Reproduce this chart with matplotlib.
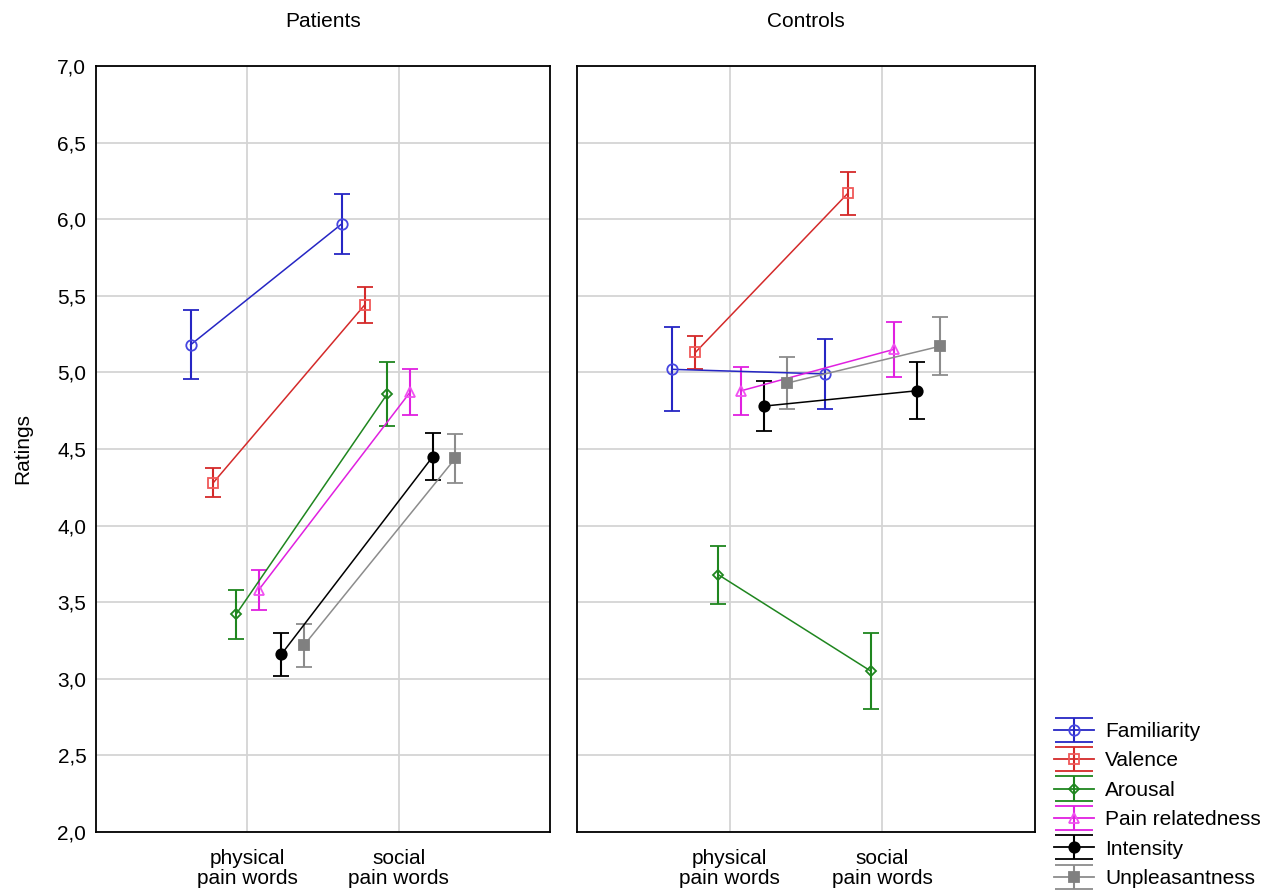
import matplotlib
matplotlib.use("Agg")
import matplotlib.pyplot as plt
from matplotlib.legend_handler import HandlerErrorbar
import numpy as np

plt.rcParams['font.family'] = ['Liberation Sans', 'DejaVu Sans']

categories = ["physical\npain words", "social\npain words"]
series = ["Familiarity", "Valence", "Arousal", "Pain relatedness", "Intensity", "Unpleasantness"]
yticks = [2.0, 2.5, 3.0, 3.5, 4.0, 4.5, 5.0, 5.5, 6.0, 6.5, 7.0]
ytick_labels = ["2,0", "2,5", "3,0", "3,5", "4,0", "4,5", "5,0", "5,5", "6,0", "6,5", "7,0"]

# Patients: means [physical, social] and error half-widths
pat_familiarity = [5.18, 5.97]
pat_familiarity_err = [0.225, 0.195]
pat_valence = [4.28, 5.44]
pat_valence_err = [0.095, 0.12]
pat_arousal = [3.42, 4.86]
pat_arousal_err = [0.16, 0.21]
pat_pain = [3.58, 4.87]
pat_pain_err = [0.13, 0.15]
pat_intensity = [3.16, 4.45]
pat_intensity_err = [0.14, 0.155]
pat_unpleasant = [3.22, 4.44]
pat_unpleasant_err = [0.14, 0.16]

# Controls
con_familiarity = [5.02, 4.99]
con_familiarity_err = [0.275, 0.23]
con_valence = [5.13, 6.17]
con_valence_err = [0.11, 0.14]
con_arousal = [3.68, 3.05]
con_arousal_err = [0.19, 0.25]
con_pain = [4.88, 5.15]
con_pain_err = [0.155, 0.18]
con_intensity = [4.78, 4.88]
con_intensity_err = [0.165, 0.185]
con_unpleasant = [4.93, 5.17]
con_unpleasant_err = [0.17, 0.19]

patients = [(pat_familiarity, pat_familiarity_err), (pat_valence, pat_valence_err),
            (pat_arousal, pat_arousal_err), (pat_pain, pat_pain_err),
            (pat_intensity, pat_intensity_err), (pat_unpleasant, pat_unpleasant_err)]
controls = [(con_familiarity, con_familiarity_err), (con_valence, con_valence_err),
            (con_arousal, con_arousal_err), (con_pain, con_pain_err),
            (con_intensity, con_intensity_err), (con_unpleasant, con_unpleasant_err)]

styles = [
    dict(color='#2626c4', marker='o', mfc='none', mec='#4646e0', ms=7.5),
    dict(color='#d42a2a', marker='s', mfc='none', mec='#f05858', ms=6.5),
    dict(color='#1f861f', marker='D', mfc='none', mec='#1f861f', ms=5.5),
    dict(color='#e020e0', marker='^', mfc='none', mec='#f050f0', ms=7),
    dict(color='#000000', marker='o', mfc='#000000', mec='#000000', ms=7.5),
    dict(color='#8c8c8c', marker='s', mfc='#808080', mec='#808080', ms=7),
]
offsets = [-0.375, -0.225, -0.075, 0.075, 0.225, 0.375]
FS = 15

fig = plt.figure(figsize=(12.74, 8.92), dpi=100)
ax1 = fig.add_axes([96/1274, 1-832/892, 454/1274, 766/892])
ax2 = fig.add_axes([577/1274, 1-832/892, 458/1274, 766/892])

xpos = np.array([1, 2])
for ax, data, title in [(ax1, patients, "Patients"), (ax2, controls, "Controls")]:
    for (vals, errs), st, off, name in zip(data, styles, offsets, series):
        ax.errorbar(xpos + off, vals, yerr=errs, color=st['color'], marker=st['marker'],
                    mfc=st['mfc'], mec=st['mec'], ms=st['ms'], mew=1.3, lw=1.1,
                    elinewidth=1.5, capsize=5.5, capthick=1.5, zorder=3)
    ax.set_xlim(0, 3)
    ax.set_ylim(2.0, 7.0)
    ax.set_xticks(xpos)
    ax.set_xticklabels(categories, fontsize=FS, linespacing=1.1)
    ax.set_yticks(yticks)
    ax.grid(True, color='#d4d4d4', lw=1.3, zorder=0)
    ax.set_axisbelow(True)
    ax.tick_params(axis='y', length=0, pad=7)
    ax.tick_params(axis='x', length=0, pad=12)
    for sp in ax.spines.values():
        sp.set_linewidth(1.3)
        sp.set_color('#000000')
    ax.set_title(title, fontsize=FS, pad=28)

ax1.set_yticklabels(ytick_labels, fontsize=FS)
ax2.set_yticklabels([])
ax1.set_ylabel("Ratings", fontsize=FS, labelpad=18)

# legend proxies (drawn on an invisible axes)
pax = fig.add_axes([0, 0, 0.01, 0.01])
pax.set_visible(False)
handles = []
for st in styles:
    h = pax.errorbar([0], [0], yerr=[1], color=st['color'], marker=st['marker'],
                     mfc=st['mfc'], mec=st['mec'], ms=st['ms'], mew=1.3, lw=1.3,
                     elinewidth=1.5, capsize=14, capthick=1.5)
    handles.append(h)

fig.legend(handles=handles, labels=series, loc='upper left',
           bbox_to_anchor=(1054/1274, 1-722/892), frameon=False, fontsize=FS,
           handlelength=1.9, handletextpad=0.55, labelspacing=0.5, borderaxespad=0,
           borderpad=0, handler_map={type(handles[0]): HandlerErrorbar(yerr_size=0.58)})

fig.savefig("out.png", dpi=100)
